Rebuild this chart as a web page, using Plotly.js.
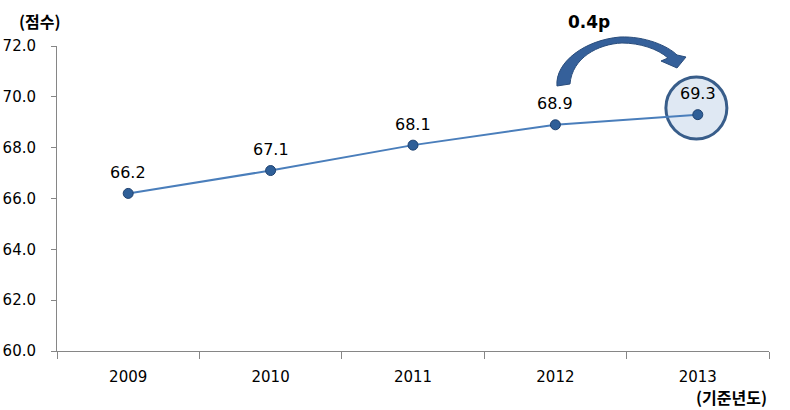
<!DOCTYPE html>
<html><head><meta charset="utf-8">
<script src="https://cdn.plot.ly/plotly-3.0.1.min.js"></script>
<style>html,body{margin:0;padding:0;background:#fff}#chart{width:790px;height:410px}</style>
</head><body><div id="chart"></div>
<script>
const years = ['2009','2010','2011','2012','2013'];
const scores = [66.2, 67.1, 68.1, 68.9, 69.3];
const yTicks = [60, 62, 64, 66, 68, 70, 72];
const yTickText = ['60.0','62.0','64.0','66.0','68.0','70.0','72.0'];
const changeLabel = '0.4p';

const W = 790, H = 410, L = 57, R = 21, T = 46, B = 59;
const pw = W - L - R, ph = H - T - B;
function P(x, y){ return ((x - L)/pw).toFixed(4) + ',' + ((H - B - y)/ph).toFixed(4); }
const arrowPath =
  'M' + P(557,86) + ' C' + P(555,62) + ' ' + P(585,40) + ' ' + P(620,37) +
  ' C' + P(645,36) + ' ' + P(668,46) + ' ' + P(677,55) +
  ' L' + P(686,57) + ' L' + P(677,68) + ' L' + P(661,61) + ' L' + P(668,58) +
  ' C' + P(658,49) + ' ' + P(640,43) + ' ' + P(622,43) +
  ' C' + P(598,44) + ' ' + P(572,58) + ' ' + P(570,84) + ' Z';

const font = {family: 'DejaVu Sans, sans-serif', size: 15, color: '#000'};
const labelFont = {family: 'DejaVu Sans, sans-serif', size: 16, color: '#000'};
const trace = {
  x: years, y: scores, type: 'scatter', mode: 'lines+markers',
  cliponaxis: false,
  line: {color: '#4a7ebb', width: 2},
  marker: {size: 10, color: '#2f5f98', line: {color: '#1f4270', width: 1}}
};
const valueLabels = years.map((yr, i) => ({
  x: i, y: scores[i], xref: 'x', yref: 'y', text: scores[i].toFixed(1),
  showarrow: false, yshift: 21, xanchor: 'center', yanchor: 'middle', font: labelFont
}));
const layout = {
  width: W, height: H, margin: {l: L, r: R, t: T, b: B},
  paper_bgcolor: '#fff', plot_bgcolor: '#fff', showlegend: false,
  font: font,
  xaxis: {type: 'category', range: [-0.5, 4.5], showgrid: false, zeroline: false,
    showline: true, linecolor: '#868686', linewidth: 1,
    ticks: 'outside', tickson: 'boundaries', ticklen: 7, tickcolor: '#868686',
    ticklabelstandoff: 12, tickfont: font},
  yaxis: {range: [60, 72], tickvals: yTicks, ticktext: yTickText, showgrid: false, zeroline: false,
    showline: true, linecolor: '#868686', linewidth: 1,
    ticks: 'outside', ticklen: 5, tickcolor: '#868686', ticklabelstandoff: 12, tickfont: font},
  shapes: [
    {type: 'circle', xref: 'x', yref: 'y', xsizemode: 'pixel', ysizemode: 'pixel',
     xanchor: 3.99, yanchor: 69.56, x0: -30.5, x1: 30.5, y0: -31, y1: 31,
     fillcolor: 'rgba(220,230,242,0.9)', line: {color: '#385d8a', width: 3}, layer: 'below'},
    {type: 'path', xref: 'paper', yref: 'paper', path: arrowPath,
     fillcolor: '#35609a', line: {color: '#2a4d7c', width: 1}}
  ],
  annotations: valueLabels.concat([
    {text: '<b>(점수)</b>', xref: 'paper', yref: 'paper', x: (40-L)/pw, y: (H-B-21)/ph,
     showarrow: false, xanchor: 'center', yanchor: 'middle',
     font: {family: 'Noto Sans CJK KR, sans-serif', size: 16, color: '#000'}},
    {text: '<b>(기준년도)</b>', xref: 'paper', yref: 'paper', x: (731-L)/pw, y: (H-B-397)/ph,
     showarrow: false, xanchor: 'center', yanchor: 'middle',
     font: {family: 'Noto Sans CJK KR, sans-serif', size: 16, color: '#000'}},
    {text: '<b>' + changeLabel + '</b>', xref: 'paper', yref: 'paper', x: (589-L)/pw, y: (H-B-22)/ph,
     showarrow: false, xanchor: 'center', yanchor: 'middle',
     font: {family: 'DejaVu Sans, sans-serif', size: 17, color: '#000'}}
  ])
};
Plotly.newPlot('chart', [trace], layout, {displayModeBar: false, staticPlot: true});
</script></body></html>
